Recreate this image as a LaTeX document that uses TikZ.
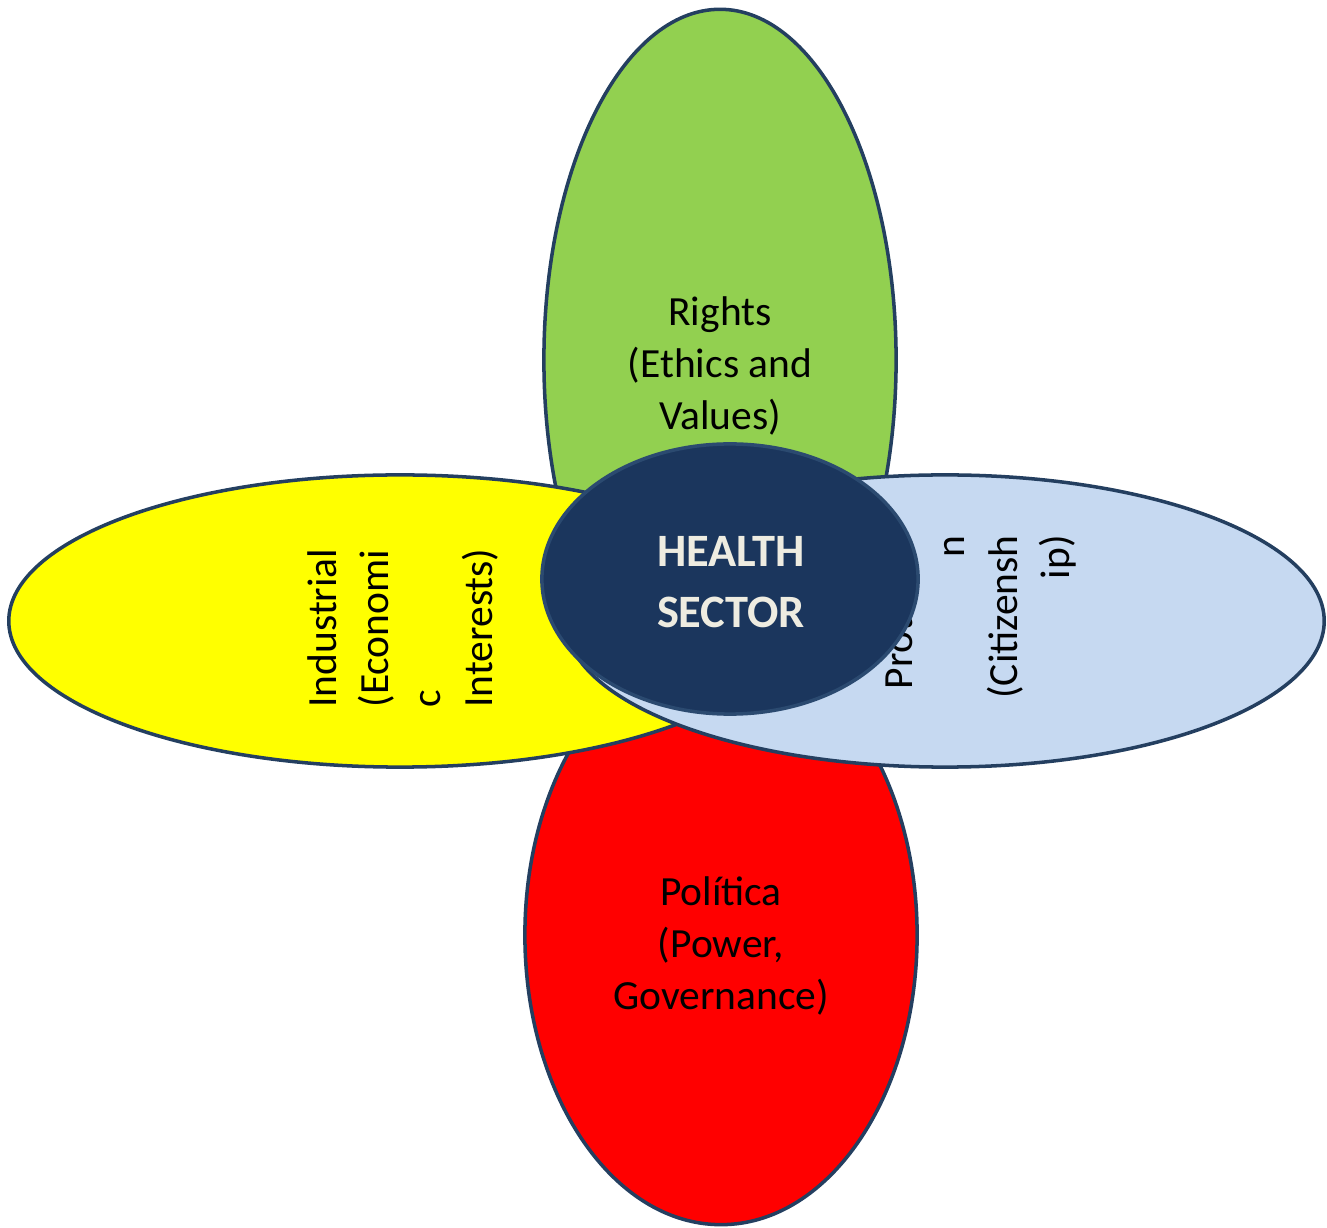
\documentclass[tikz,border=0pt]{standalone}
\usepackage{fontspec}
\setmainfont{Carlito}
\usetikzlibrary{shapes.geometric}
\definecolor{navyx}{HTML}{243F60}
\definecolor{hubx}{HTML}{1B365D}
\definecolor{hubline}{HTML}{2B4A70}
\definecolor{greenx}{HTML}{92D050}
\definecolor{yellowx}{HTML}{FFFF00}
\definecolor{bluex}{HTML}{C6D9F1}
\definecolor{redx}{HTML}{FF0000}
\definecolor{creamx}{HTML}{EEECE1}

\begin{document}
\begin{tikzpicture}[x=0.01cm, y=-0.01cm,
    petal/.style={ellipse, draw=navyx, line width=1pt, inner sep=0pt, outer sep=0pt},
    lbl/.style={font=\fontsize{11.8}{14.8}\selectfont, inner sep=0pt},
    hubtext/.style={font=\fontsize{13.2}{17.3}\selectfont\bfseries, text=creamx,
                    align=center, inner sep=0pt}
  ]
  \useasboundingbox (0,0) rectangle (1327,1228);
  % four petals, back to front
  \node[petal, fill=greenx,  minimum width=3.52cm, minimum height=7.01cm] (rights)   at (720,360) {};
  \node[petal, fill=redx,    minimum width=3.92cm, minimum height=5.79cm] (politica) at (721,935) {};
  \node[petal, fill=yellowx, minimum width=7.82cm, minimum height=2.92cm] (industry) at (400,621) {};
  \node[petal, fill=bluex,   minimum width=7.58cm, minimum height=2.92cm] (social)   at (945,621) {};
  % petal labels (under the hub)
  \node[lbl, align=center] (rightsTxt) at (720,366) {Rights\\(Ethics and\\Values)};
  \node[lbl, align=center] (politicaTxt) at (721,946) {Política\\(Power,\\Governance)};
  \node[lbl, align=left, rotate=90] (industryTxt) at (403,628) {Industrial\\(Economi\\c\\Interests)};
  \node[lbl, align=right, rotate=90] (socialTxt) at (980,617) {Protectio\\n\\(Citizensh\\ip)};
  % hub
  \node[ellipse, fill=hubx, draw=hubline, line width=1pt, inner sep=0pt,
        minimum width=3.76cm, minimum height=2.70cm] (hub) at (730,579) {};
  \node[hubtext] (hubTxt) at (731,582) {HEALTH\\SECTOR};
\end{tikzpicture}
\end{document}
